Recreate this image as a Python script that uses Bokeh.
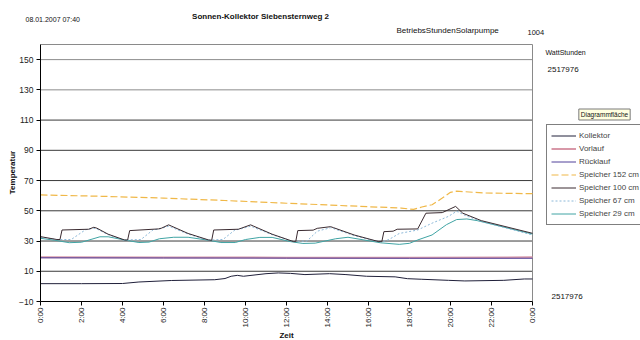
import math
from bokeh.plotting import figure
from bokeh.models import Label, Legend, LegendItem, FixedTicker, Range1d
from bokeh.embed import file_html
from bokeh.resources import INLINE

# ---------------- data (hours of day, temperature °C) ----------------
x_ticks = [0, 2, 4, 6, 8, 10, 12, 14, 16, 18, 20, 22, 24]
x_tick_labels = ["0:00", "2:00", "4:00", "6:00", "8:00", "10:00", "12:00",
                 "14:00", "16:00", "18:00", "20:00", "22:00", "0:00"]
y_ticks = [-10, 10, 30, 50, 70, 90, 110, 130, 150]
grid_dark = [10, 30, 50, 70, 90, 110]
grid_light = [130, 150]

t_kollektor = [0, 2, 4, 4.8, 6.4, 8.5, 9.0, 9.3, 9.6, 9.9, 11.0, 11.6, 12.2, 12.9,
               14.1, 14.9, 15.9, 17.3, 17.9, 18.6, 19.9, 20.7, 22.6, 23.6, 24]
kollektor = [1.8, 1.8, 1.9, 2.9, 3.9, 4.4, 5.2, 6.7, 7.3, 6.7, 8.4, 8.9, 8.6, 7.8,
             8.4, 7.8, 6.7, 6.3, 5.1, 4.7, 4.0, 3.6, 4.0, 4.9, 4.9]

t_vorlauf = [0, 6, 12, 18, 24]
vorlauf = [19.2, 19.1, 19.0, 19.0, 19.2]
t_ruecklauf = [0, 6, 12, 18, 24]
ruecklauf = [18.9, 18.8, 18.7, 18.6, 18.6]

t_sp152 = [0, 3, 6, 9, 12, 15, 16, 17, 17.6, 18.2, 18.6, 19.1, 19.6, 20.0, 20.3, 21.6, 24]
sp152 = [60.5, 59.6, 58.4, 56.8, 55.0, 53.3, 52.7, 52.2, 51.8, 50.9, 52.5, 54.0,
         58.4, 62.2, 63.0, 61.8, 61.3]

t_sp100 = [0, 0.8, 0.95, 1.05, 2.35, 2.6, 2.75, 3.3, 4.1, 4.25, 4.35, 5.75, 5.9, 6.25,
           6.4, 7.2, 8.2, 8.35, 8.45, 9.65, 9.8, 10.25, 10.4, 11.3, 12.35, 12.45, 12.55,
           13.3, 13.5, 14.15, 14.3, 15.3, 16.5, 16.65, 16.75, 17.2, 17.4, 18.4, 18.8,
           19.6, 20.25, 20.6, 21.5, 24]
sp100 = [32.9, 31.0, 31.0, 37.3, 37.8, 39.1, 38.5, 34.5, 30.7, 30.7, 36.9, 38.0, 38.5,
         40.7, 39.8, 35.0, 30.7, 30.5, 37.3, 37.8, 38.5, 40.7, 39.8, 34.5, 29.6, 29.6,
         36.9, 37.2, 38.4, 39.5, 38.8, 34.0, 29.6, 29.6, 36.2, 36.5, 37.8, 38.0, 48.4,
         48.8, 52.9, 48.4, 43.5, 35.1]

t_sp67 = [0, 0.8, 1.0, 1.5, 2.2, 2.35, 2.6, 2.75, 3.3, 4.1, 4.35, 4.9, 5.5, 5.75, 6.25,
          6.4, 7.2, 8.2, 8.45, 8.9, 9.5, 9.65, 10.25, 10.4, 11.3, 12.35, 12.55, 13.0,
          13.5, 14.15, 14.3, 15.3, 16.5, 16.75, 17.0, 17.5, 18.4, 19.1, 19.9, 20.3,
          20.7, 21.5, 24]
sp67 = [32.5, 31.0, 31.0, 31.0, 37.5, 37.8, 38.5, 38.0, 34.2, 30.5, 30.8, 31.0, 37.5,
        37.8, 39.8, 39.0, 34.6, 30.5, 30.8, 31.0, 37.5, 37.6, 39.8, 39.0, 34.2, 29.6,
        29.8, 30.0, 36.5, 38.8, 38.2, 33.6, 29.5, 29.8, 31.0, 35.0, 37.3, 41.8, 46.3,
        49.7, 47.0, 43.0, 34.0]

t_sp29 = [0, 0.7, 1.4, 2.0, 2.9, 3.3, 4.1, 4.8, 5.3, 5.8, 6.5, 7.2, 8.2, 8.8, 9.5, 10.0,
          10.7, 11.3, 12.2, 12.8, 13.4, 14.4, 15.0, 16.6, 17.5, 18.0, 18.4, 19.1, 19.8,
          20.3, 20.8, 21.3, 24]
sp29 = [31.8, 30.5, 28.9, 29.2, 32.8, 32.8, 30.7, 29.0, 29.3, 31.5, 32.5, 32.5, 30.5,
        29.0, 29.0, 31.0, 32.4, 32.4, 29.6, 28.4, 28.6, 31.5, 32.5, 28.8, 27.8, 28.5,
        30.7, 34.0, 40.8, 44.2, 44.6, 43.5, 34.6]

# ---------------- layout ----------------
W, H = 640, 340
PL, PR, PT, PB = 40, 532, 44, 301        # pixel box of the chart area
X0, X1, Y0, Y1 = 0, 24, -10, 160         # value box of the chart area
sx = (PR - PL) / (X1 - X0)
sy = (PB - PT) / (Y1 - Y0)
# the frame covers the whole canvas so that every text annotation is visible;
# axes are pinned at the chart-area edges with fixed_location
XR = (X0 - PL / sx, X1 + (W - PR) / sx)
YR = (Y0 - (H - PB) / sy, Y1 + PT / sy)


def hx(px):
    return X0 + (px - PL) / sx


def vy(py):
    return Y0 + (PB - py) / sy


FONT = "Liberation Sans"

p = figure(width=W, height=H, output_backend="svg", toolbar_location=None,
           x_range=Range1d(*XR), y_range=Range1d(*YR),
           min_border=0, min_border_left=0, min_border_right=0,
           min_border_top=0, min_border_bottom=0)
p.background_fill_color = "white"
p.border_fill_color = "white"
p.outline_line_color = None
p.xgrid.visible = False
p.ygrid.visible = False

# axes
p.xaxis.ticker = FixedTicker(ticks=x_ticks)
p.xaxis.major_label_overrides = {t: l for t, l in zip(x_ticks, x_tick_labels)}
p.xaxis.major_label_orientation = math.pi / 2
p.xaxis.bounds = (X0, X1)
p.xaxis.fixed_location = Y0
p.yaxis.ticker = FixedTicker(ticks=y_ticks)
p.yaxis.bounds = (Y0, Y1)
p.yaxis.fixed_location = X0
for ax in (p.xaxis[0], p.yaxis[0]):
    ax.axis_line_color = "black"
    ax.major_tick_line_color = "black"
    ax.major_tick_out = 4
    ax.major_tick_in = 0
    ax.minor_tick_line_color = None
    ax.major_label_text_font = FONT
    ax.major_label_text_color = "#222222"
p.xaxis.major_label_text_font_size = "8px"
p.xaxis.major_label_standoff = 2
p.yaxis.major_label_text_font_size = "8.5px"
p.yaxis.major_label_standoff = 3

# grid lines and chart box (top and right edges)
p.segment(x0=[X0] * len(grid_dark), x1=[X1] * len(grid_dark), y0=grid_dark, y1=grid_dark,
          line_color="#3a3a3a", line_width=1)
p.segment(x0=[X0] * len(grid_light), x1=[X1] * len(grid_light), y0=grid_light, y1=grid_light,
          line_color="#8c8c8c", line_width=1)
p.segment(x0=[X0, X1], x1=[X1, X1], y0=[Y1, Y0], y1=[Y1, Y1],
          line_color="#8a8a8a", line_width=1)

# series
r_k = p.line(t_kollektor, kollektor, line_color="#20203a", line_width=1)
r_v = p.line(t_vorlauf, vorlauf, line_color="#d898a8", line_width=2)
r_r = p.line(t_ruecklauf, ruecklauf, line_color="#50409a", line_width=1)
r_152 = p.line(t_sp152, sp152, line_color="#f0b848", line_width=1.2, line_dash="7 3")
r_29 = p.line(t_sp29, sp29, line_color="#40a4a4", line_width=1)
r_67 = p.line(t_sp67, sp67, line_color="#8cb8d8", line_width=1, line_dash="2 2")
r_100 = p.line(t_sp100, sp100, line_color="#3a2a30", line_width=1)

legend = Legend(items=[
    LegendItem(label="Kollektor", renderers=[r_k]),
    LegendItem(label="Vorlauf", renderers=[r_v]),
    LegendItem(label="Rücklauf", renderers=[r_r]),
    LegendItem(label="Speicher 152 cm", renderers=[r_152]),
    LegendItem(label="Speicher 100 cm", renderers=[r_100]),
    LegendItem(label="Speicher 67 cm", renderers=[r_67]),
    LegendItem(label="Speicher 29 cm", renderers=[r_29]),
], location=(546, H - 225))
legend.label_text_font = FONT
legend.label_text_font_size = "8px"
legend.label_height = 13
legend.glyph_height = 13
legend.glyph_width = 25
legend.label_standoff = 3
legend.spacing = 0
legend.padding = 4
legend.margin = 0
legend.border_line_color = "black"
legend.border_line_width = 1
legend.background_fill_color = "white"
legend.background_fill_alpha = 1
p.add_layout(legend)


def add_text(px, py, text, size, align="left", bold=False, angle=0, **kw):
    lab = Label(x=hx(px), y=vy(py), text=text, text_font=FONT,
                text_font_size=size, text_align=align, text_baseline="middle",
                text_font_style="bold" if bold else "normal", text_color="#111111",
                angle=angle, **kw)
    p.add_layout(lab)


add_text(260, 16, "Sonnen-Kollektor Siebensternweg 2", "8px", align="center", bold=True)
add_text(25, 19, "08.01.2007 07:40", "7px")
add_text(396, 30, "BetriebsStundenSolarpumpe", "8px")
add_text(527, 32, "1004", "7.5px")
add_text(545, 52, "WattStunden", "7px")
add_text(547, 69, "2517976", "8px")
add_text(551, 296, "2517976", "8px")
add_text(286, 335, "Zeit", "8px", align="center", bold=True)
add_text(12, 172, "Temperatur", "8px", align="center", bold=True, angle=math.pi / 2)
add_text(604, 114, "Diagrammfläche", "6.5px", align="center",
         background_fill_color="#ffffe0", border_line_color="#7a7a7a", padding=2)

open("out.html", "w").write(file_html(p, INLINE))
